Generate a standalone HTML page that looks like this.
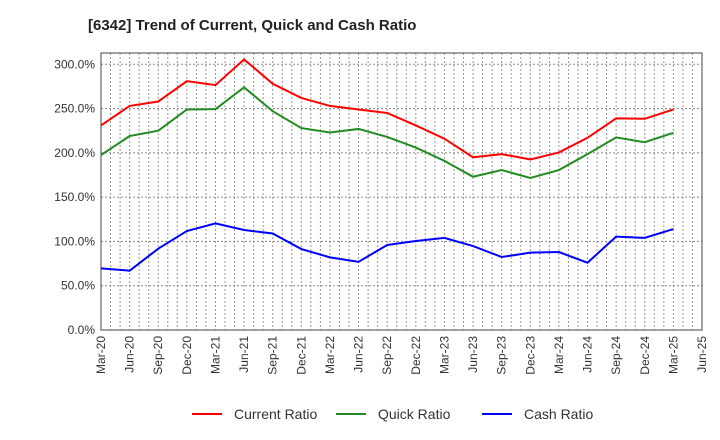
<!DOCTYPE html>
<html><head><meta charset="utf-8"><style>
body{margin:0;background:#fff;font-family:"Liberation Sans",sans-serif}
svg{display:block}
</style></head><body>
<svg id="chart" width="720" height="440">
<text x="88" y="30" font-size="15" font-weight="bold" fill="#222">[6342]  Trend of Current, Quick and Cash Ratio</text>
<g id="grid"></g><g id="axes"></g><g id="series"></g><g id="legend"></g>
</svg>
<script>
const categories=["Mar-20","Jun-20","Sep-20","Dec-20","Mar-21","Jun-21","Sep-21","Dec-21","Mar-22","Jun-22","Sep-22","Dec-22","Mar-23","Jun-23","Sep-23","Dec-23","Mar-24","Jun-24","Sep-24","Dec-24","Mar-25"];
const xTickLabels=["Mar-20","Jun-20","Sep-20","Dec-20","Mar-21","Jun-21","Sep-21","Dec-21","Mar-22","Jun-22","Sep-22","Dec-22","Mar-23","Jun-23","Sep-23","Dec-23","Mar-24","Jun-24","Sep-24","Dec-24","Mar-25","Jun-25"];
const yTicks=[0,50,100,150,200,250,300];
const currentRatio=[231,253,258,281,276.5,305.5,278,262,253,249,245,231,216,195,198.6,192.6,200.5,217,239,238.5,249];
const quickRatio=[197.5,219,225,249,249.4,274,247,228,223,227,218,206,191,173,180.6,171.6,180.6,198.6,217.5,212,222.7];
const cashRatio=[69.6,67,91.8,111.7,120.4,112.9,109,91.4,82,77,96,100.5,104,94.8,82.4,87.3,88,76,105.4,104,114];
const NS="http://www.w3.org/2000/svg";
const L=101,R=702,T=53,B=330;
const step=(R-L)/(xTickLabels.length-1);
const x=i=>L+i*step;
const y=v=>B-v*(B-64.3)/300;
function mk(tag,attrs,parent){const e=document.createElementNS(NS,tag);for(const k in attrs)e.setAttribute(k,attrs[k]);parent.appendChild(e);return e;}
const grid=document.getElementById('grid'),axes=document.getElementById('axes'),ser=document.getElementById('series'),leg=document.getElementById('legend');
for(let m=0;m<=63;m++){const xx=L+m*step/3;const g=mk('line',{x1:xx,x2:xx,y1:T,y2:B,stroke:'#999','stroke-dasharray':'2,2','stroke-width':1},grid);

}
yTicks.forEach(v=>{const yy=y(v);const g=mk('line',{x1:L,x2:R,y1:yy,y2:yy,stroke:'#888','stroke-dasharray':'2,2','stroke-width':1},grid);

});
const frame=mk('rect',{x:L,y:T,width:R-L,height:B-T,fill:'none',stroke:'#444','stroke-width':1},axes);


yTicks.forEach(v=>{const t=mk('text',{x:L-6,y:y(v)+4,'text-anchor':'end','font-size':12,fill:'#333'},axes);t.textContent=v.toFixed(1)+'%';

});
xTickLabels.forEach((lab,i)=>{const t=mk('text',{x:0,y:0,'text-anchor':'end','font-size':12,fill:'#333',transform:`translate(${x(i)+4},${B+6}) rotate(-90)`},axes);t.textContent=lab;

});
const series=[["Current Ratio",currentRatio,"#ff0000","current-ratio-line"],["Quick Ratio",quickRatio,"#228b22","quick-ratio-line"],["Cash Ratio",cashRatio,"#0000ff","cash-ratio-line"]];
series.forEach(([name,vals,col,dn])=>{const p=mk('polyline',{points:vals.map((v,i)=>x(i)+','+y(v)).join(' '),fill:'none',stroke:col,'stroke-width':2},ser);

});
const lx=[192,336,482];
series.forEach(([name,vals,col,dn],k)=>{const g=mk('g',{},leg);


mk('line',{x1:lx[k],x2:lx[k]+30,y1:414,y2:414,stroke:col,'stroke-width':2},g);
const t=mk('text',{x:lx[k]+42,y:419,'font-size':14,fill:'#333'},g);t.textContent=name;});
</script>
</body></html>
